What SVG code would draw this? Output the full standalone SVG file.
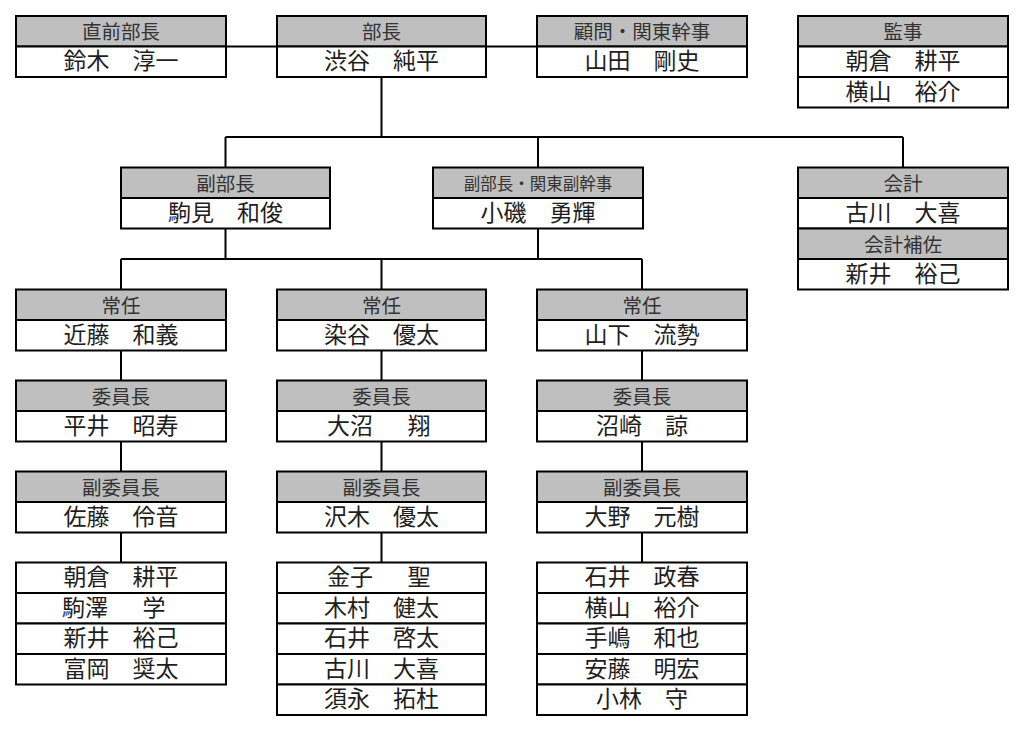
<svg xmlns="http://www.w3.org/2000/svg" width="1024" height="731" viewBox="0 0 1024 731">
<style>
.h{fill:#bfbfbf;stroke:#000;stroke-width:2}
.n{fill:#fff;stroke:#000;stroke-width:2}
.c{stroke:#000;stroke-width:2;fill:none}
text{font-family:"Noto Sans CJK JP","Noto Sans CJK SC",sans-serif;text-anchor:middle}
.ht{font-size:19.5px;fill:#333}
.hs{font-size:16.5px;fill:#333}
.nt{font-size:23px;fill:#1e1e1e}
.st{text-anchor:start}
</style>
<rect width="1024" height="731" fill="#fff"/>
<g id="connectors" class="c">
<path d="M226 46.5H277M486 46.5H537"/>
<path d="M381.5 77V137M225.5 137H903M225.5 137V167.5M538 137V167.5M903 137V167.5"/>
<path d="M225.5 228.5V259M538 228.5V259M121 259H642M121 259V289.5M381.5 259V289.5M642 259V289.5"/>
<path d="M121 350.5V380.5M381.5 350.5V380.5M642 350.5V380.5"/>
<path d="M121 441.5V471.5M381.5 441.5V471.5M642 441.5V471.5"/>
<path d="M121 532.5V562.5M381.5 532.5V562.5M642 532.5V562.5"/>
</g>
<g id="zenbucho">
<rect class="h" x="16" y="16" width="210" height="30.5"/><rect class="n" x="16" y="46.5" width="210" height="30.5"/>
<text class="ht" x="121" y="39.1">直前部長</text><text class="nt" x="121" y="69">鈴木　淳一</text>
</g>
<g id="bucho">
<rect class="h" x="277" y="16" width="209" height="30.5"/><rect class="n" x="277" y="46.5" width="209" height="30.5"/>
<text class="ht" x="381.5" y="39.1">部長</text><text class="nt" x="381.5" y="69">渋谷　純平</text>
</g>
<g id="komon">
<rect class="h" x="537" y="16" width="210" height="30.5"/><rect class="n" x="537" y="46.5" width="210" height="30.5"/>
<text class="ht" x="642" y="39.1">顧問・関東幹事</text><text class="nt" x="642" y="69">山田　剛史</text>
</g>
<g id="kanji">
<rect class="h" x="798" y="16" width="210" height="30.5"/><rect class="n" x="798" y="46.5" width="210" height="30.5"/><rect class="n" x="798" y="77" width="210" height="30.5"/>
<text class="ht" x="903" y="39.1">監事</text><text class="nt" x="903" y="69">朝倉　耕平</text><text class="nt" x="903" y="99.5">横山　裕介</text>
</g>
<g id="fukubucho">
<rect class="h" x="121" y="167.5" width="209" height="30.5"/><rect class="n" x="121" y="198" width="209" height="30.5"/>
<text class="ht" x="225.5" y="190.6">副部長</text><text class="nt" x="225.5" y="220.5">駒見　和俊</text>
</g>
<g id="fukubucho-kanto">
<rect class="h" x="433" y="167.5" width="210" height="30.5"/><rect class="n" x="433" y="198" width="210" height="30.5"/>
<text class="hs" x="538" y="189.5">副部長・関東副幹事</text><text class="nt" x="538" y="220.5">小磯　勇輝</text>
</g>
<g id="kaikei">
<rect class="h" x="798" y="167.5" width="210" height="30.5"/><rect class="n" x="798" y="198" width="210" height="30.5"/><rect class="h" x="798" y="228.5" width="210" height="30.5"/><rect class="n" x="798" y="259" width="210" height="30.5"/>
<text class="ht" x="903" y="190.6">会計</text><text class="nt" x="903" y="220.5">古川　大喜</text><text class="ht" x="903" y="251.6">会計補佐</text><text class="nt" x="903" y="281.5">新井　裕己</text>
</g>
<g id="jonin-a">
<rect class="h" x="16" y="289.5" width="210" height="30.5"/><rect class="n" x="16" y="320" width="210" height="30.5"/>
<text class="ht" x="121" y="312.6">常任</text><text class="nt" x="121" y="342.5">近藤　和義</text>
</g>
<g id="jonin-b">
<rect class="h" x="277" y="289.5" width="209" height="30.5"/><rect class="n" x="277" y="320" width="209" height="30.5"/>
<text class="ht" x="381.5" y="312.6">常任</text><text class="nt" x="381.5" y="342.5">染谷　優太</text>
</g>
<g id="jonin-c">
<rect class="h" x="537" y="289.5" width="210" height="30.5"/><rect class="n" x="537" y="320" width="210" height="30.5"/>
<text class="ht" x="642" y="312.6">常任</text><text class="nt" x="642" y="342.5">山下　流勢</text>
</g>
<g id="iincho-a">
<rect class="h" x="16" y="380.5" width="210" height="30.5"/><rect class="n" x="16" y="411" width="210" height="30.5"/>
<text class="ht" x="121" y="403.6">委員長</text><text class="nt" x="121" y="433.5">平井　昭寿</text>
</g>
<g id="iincho-b">
<rect class="h" x="277" y="380.5" width="209" height="30.5"/><rect class="n" x="277" y="411" width="209" height="30.5"/>
<text class="ht" x="381.5" y="403.6">委員長</text><text class="nt st" x="327" y="433.5">大沼　<tspan dx="11.5">翔</tspan></text>
</g>
<g id="iincho-c">
<rect class="h" x="537" y="380.5" width="210" height="30.5"/><rect class="n" x="537" y="411" width="210" height="30.5"/>
<text class="ht" x="642" y="403.6">委員長</text><text class="nt" x="642" y="433.5">沼崎　諒</text>
</g>
<g id="fukuiincho-a">
<rect class="h" x="16" y="471.5" width="210" height="30.5"/><rect class="n" x="16" y="502" width="210" height="30.5"/>
<text class="ht" x="121" y="494.6">副委員長</text><text class="nt" x="121" y="524.5">佐藤　伶音</text>
</g>
<g id="fukuiincho-b">
<rect class="h" x="277" y="471.5" width="209" height="30.5"/><rect class="n" x="277" y="502" width="209" height="30.5"/>
<text class="ht" x="381.5" y="494.6">副委員長</text><text class="nt" x="381.5" y="524.5">沢木　優太</text>
</g>
<g id="fukuiincho-c">
<rect class="h" x="537" y="471.5" width="210" height="30.5"/><rect class="n" x="537" y="502" width="210" height="30.5"/>
<text class="ht" x="642" y="494.6">副委員長</text><text class="nt" x="642" y="524.5">大野　元樹</text>
</g>
<g id="members-a">
<rect class="n" x="16" y="562.5" width="210" height="30.5"/><rect class="n" x="16" y="593" width="210" height="30.5"/><rect class="n" x="16" y="623.5" width="210" height="30.5"/><rect class="n" x="16" y="654" width="210" height="30.5"/>
<text class="nt" x="121" y="585">朝倉　耕平</text>
<text class="nt st" x="62" y="615.5">駒澤　<tspan dx="11.5">学</tspan></text>
<text class="nt" x="121" y="646">新井　裕己</text>
<text class="nt" x="121" y="676.5">富岡　奨太</text>
</g>
<g id="members-b">
<rect class="n" x="277" y="562.5" width="209" height="30.5"/><rect class="n" x="277" y="593" width="209" height="30.5"/><rect class="n" x="277" y="623.5" width="209" height="30.5"/><rect class="n" x="277" y="654" width="209" height="30.5"/><rect class="n" x="277" y="684.5" width="209" height="30.5"/>
<text class="nt st" x="327" y="585">金子　<tspan dx="11.5">聖</tspan></text>
<text class="nt" x="381.5" y="615.5">木村　健太</text>
<text class="nt" x="381.5" y="646">石井　啓太</text>
<text class="nt" x="381.5" y="676.5">古川　大喜</text>
<text class="nt" x="381.5" y="707">須永　拓杜</text>
</g>
<g id="members-c">
<rect class="n" x="537" y="562.5" width="210" height="30.5"/><rect class="n" x="537" y="593" width="210" height="30.5"/><rect class="n" x="537" y="623.5" width="210" height="30.5"/><rect class="n" x="537" y="654" width="210" height="30.5"/><rect class="n" x="537" y="684.5" width="210" height="30.5"/>
<text class="nt" x="642" y="585">石井　政春</text>
<text class="nt" x="642" y="615.5">横山　裕介</text>
<text class="nt" x="642" y="646">手嶋　和也</text>
<text class="nt" x="642" y="676.5">安藤　明宏</text>
<text class="nt" x="642" y="707">小林　守</text>
</g>
</svg>
